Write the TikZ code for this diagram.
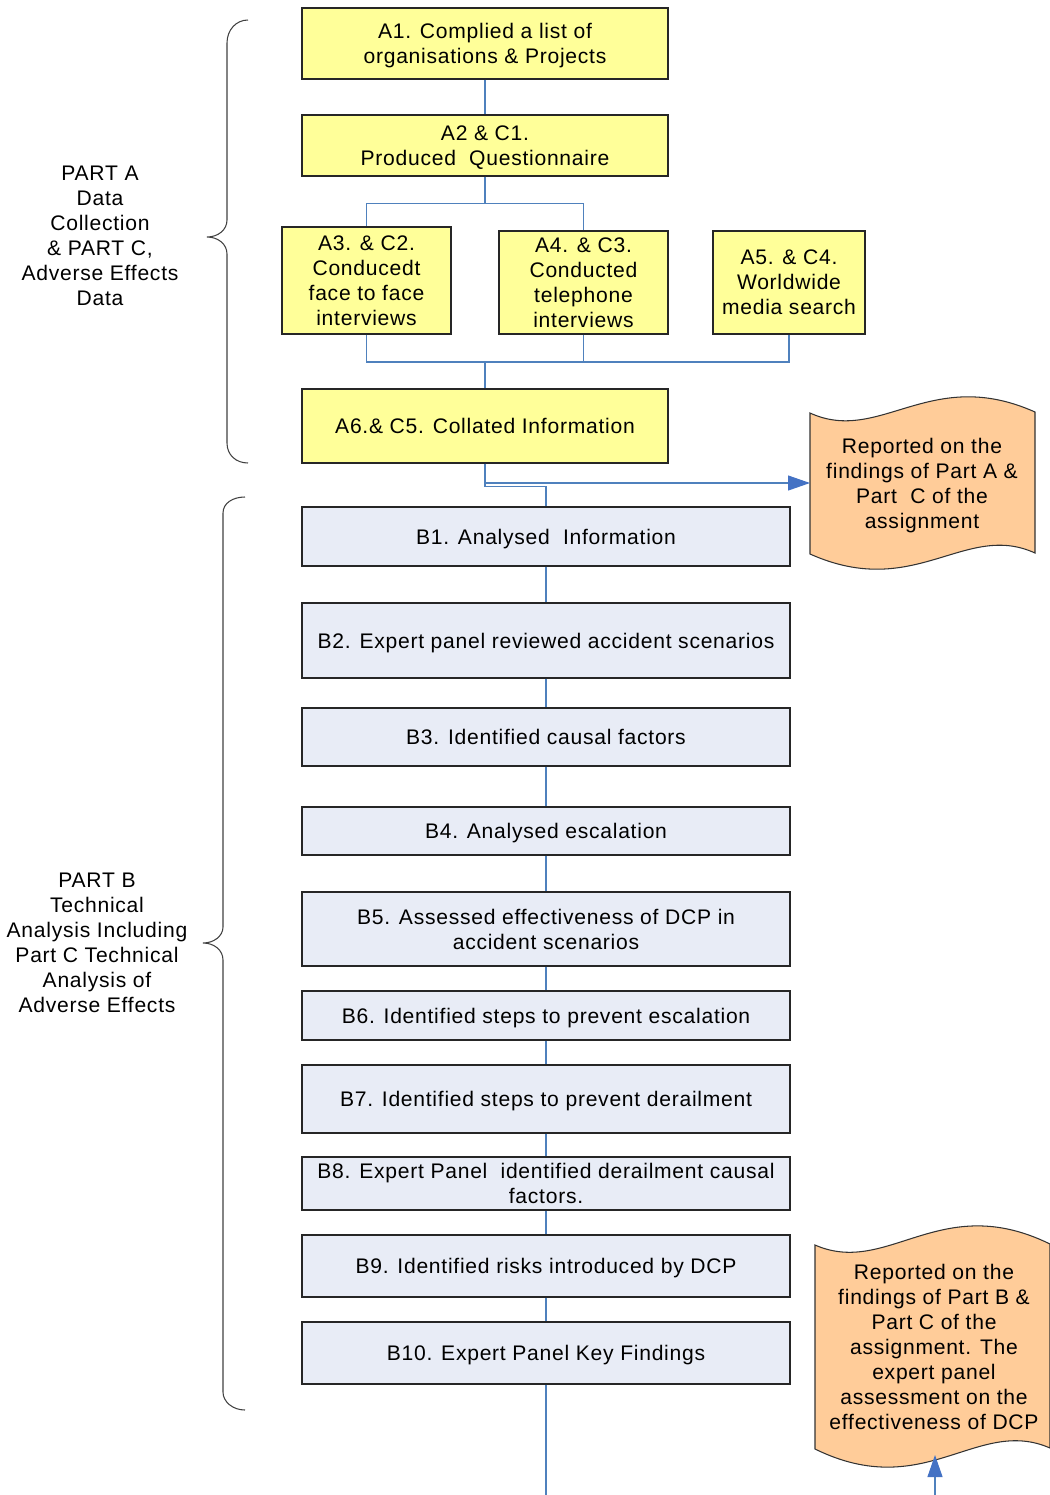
\documentclass[tikz,border=0pt]{standalone}
\usepackage{fontspec}
\setmainfont[LetterSpace=3.5]{Liberation Sans}
\usetikzlibrary{arrows.meta}
\definecolor{yfill}{HTML}{FFFF99}
\definecolor{bfill}{HTML}{E8ECF6}
\definecolor{docfill}{HTML}{FFCC99}
\definecolor{lineblue}{HTML}{4F81BD}
\definecolor{tipblue}{HTML}{4472C4}
\tikzset{
  every node/.style={font=\fontsize{12}{14.2}\selectfont, align=center, inner sep=0pt, text depth=0pt},
  ybox/.style={draw=black!85, fill=yfill, line width=0.7pt},
  bbox/.style={draw=black!85, fill=bfill, line width=0.7pt, minimum width=9.76cm},
  conn/.style={draw=lineblue, line width=0.6pt},
  arr/.style={conn, -{Triangle[length=0.44cm, width=0.3cm, color=tipblue]}},
  brace/.style={draw=black!75, line width=0.6pt},
  docshape/.style={draw=black!80, fill=docfill, line width=0.6pt}
}
\begin{document}
\begin{tikzpicture}[x=0.02cm, y=-0.02cm]
\useasboundingbox (0,0) rectangle (1050,1495);

\node[ybox, minimum width=7.32cm, minimum height=1.42cm] (a1) at (485,43.5) {A1. Complied a list of\\organisations \& Projects};
\node[ybox, minimum width=7.32cm, minimum height=1.22cm] (a2) at (485,145.5) {A2 \& C1.\\Produced\ \ Questionnaire};
\node[ybox, minimum width=3.38cm, minimum height=2.14cm] (a3) at (366.5,280.5) {A3. \& C2.\\Conducedt\\face to face\\interviews};
\node[ybox, minimum width=3.38cm, minimum height=2.06cm] (a4) at (583.5,282.5) {A4. \& C3.\\Conducted\\telephone\\interviews};
\node[ybox, minimum width=3.04cm, minimum height=2.06cm] (a5) at (789,282.5) {A5. \& C4.\\Worldwide\\media search};
\node[ybox, minimum width=7.32cm, minimum height=1.48cm] (a6) at (485,426) {A6.\& C5. Collated Information};

\node[bbox, minimum height=1.18cm] (b1) at (546,536.5) {B1. Analysed\ \ Information};
\node[bbox, minimum height=1.50cm] (b2) at (546,640.5) {B2. Expert panel reviewed accident scenarios};
\node[bbox, minimum height=1.16cm] (b3) at (546,737) {B3. Identified causal factors};
\node[bbox, minimum height=0.96cm] (b4) at (546,831) {B4. Analysed escalation};
\node[bbox, minimum height=1.48cm] (b5) at (546,929) {B5. Assessed effectiveness of DCP in\\accident scenarios};
\node[bbox, minimum height=0.98cm] (b6) at (546,1015.5) {B6. Identified steps to prevent escalation};
\node[bbox, minimum height=1.36cm] (b7) at (546,1099) {B7. Identified steps to prevent derailment};
\node[bbox, minimum height=1.06cm] (b8) at (546,1183.5) {B8. Expert Panel\ \ identified derailment causal\\factors.};
\node[bbox, minimum height=1.24cm] (b9) at (546,1266) {B9. Identified risks introduced by DCP};
\node[bbox, minimum height=1.24cm] (b10) at (546,1353) {B10. Expert Panel Key Findings};

\draw[docshape] (810,413) .. controls (880,445) and (930,365) .. (1035,412) -- (1035,553) .. controls (965,521) and (915,601) .. (810,554) -- cycle;
\node (rep1) at (922,483) {Reported on the\\findings of Part A \&\\Part\ \ C of the\\assignment};
\draw[docshape] (815,1245) .. controls (888,1277) and (940,1190) .. (1050,1244) -- (1050,1448) .. controls (977,1416) and (925,1503) .. (815,1449) -- cycle;
\node (rep2) at (934,1347) {Reported on the\\findings of Part B \&\\Part C of the\\assignment. The\\expert panel\\assessment on the\\effectiveness of DCP};

\draw[brace] (248,20) .. controls (236,20) and (227,30) .. (227,43) -- (227,220) .. controls (227,230) and (218,237) .. (207,237) .. controls (218,237) and (227,244) .. (227,254) -- (227,443) .. controls (227,455) and (236,463) .. (248,463);
\draw[brace] (245,497) .. controls (233,497) and (223,503) .. (223,513) -- (223,927) .. controls (223,936) and (214,943) .. (203,943) .. controls (214,943) and (223,950) .. (223,960) -- (223,1392) .. controls (223,1402) and (233,1410) .. (245,1410);
\node (parta) at (100,236) {PART A\\Data\\Collection\\\& PART C,\\Adverse Effects\\Data};
\node (partb) at (97,943) {PART B\\Technical\\Analysis Including\\Part C Technical\\Analysis of\\Adverse Effects};

\coordinate (j1) at (485,362);
\coordinate (rep1w) at (810,483);
\coordinate (bend) at (546,1495);
\coordinate (rep2s) at (935,1495);
\coordinate (rep2b) at (935,1455);

\draw[conn] (a1) -- (a2);
\draw[conn] (a2.south) -- ++(0,27) -| (a3.north);
\draw[conn] (a2.south) -- ++(0,27) -| (a4.north);
\draw[conn] (a3.south) |- (j1);
\draw[conn] (a4.south) |- (j1);
\draw[conn] (a5.south) |- (j1);
\draw[conn] (j1) -- (a6.north);
\draw[arr] (a6.south) |- (rep1w);
\draw[conn] (a6.south) -- ++(0,23) -| (b1.north);
\foreach \i [evaluate=\i as \j using int(\i+1)] in {1,...,9}
  \draw[conn] (b\i) -- (b\j);
\draw[conn] (b10) -- (bend);
\draw[arr] (rep2s) -- (rep2b);
\end{tikzpicture}
\end{document}
